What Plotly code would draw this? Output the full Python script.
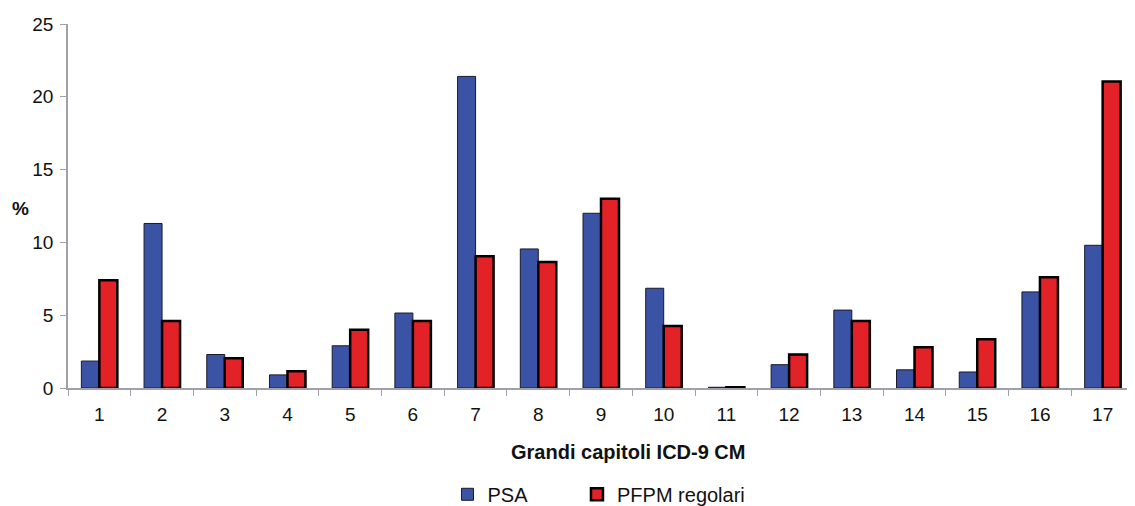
import plotly.graph_objects as go

categories = [str(i) for i in range(1, 18)]
psa = [1.85, 11.3, 2.3, 0.9, 2.9, 5.15, 21.4, 9.55, 12.0, 6.85, 0.05, 1.6, 5.35, 1.25, 1.1, 6.6, 9.8]
pfpm = [7.4, 4.6, 2.05, 1.15, 4.0, 4.6, 9.05, 8.65, 13.0, 4.25, 0.05, 2.3, 4.6, 2.8, 3.35, 7.6, 21.05]
y_ticks = [0, 5, 10, 15, 20, 25]

FONT = "Liberation Sans, Arial, sans-serif"
NB = "\u00a0"

# page body has an 8px margin, so figure coords = screen coords - 8
L, T = 60, 16
PW, PH = 1066, 364

fig = go.Figure()
fig.add_trace(go.Bar(
    x=categories, y=psa, name="PSA" + NB * 8,
    marker=dict(color="#3a53a4", line=dict(color="#1a1a2a", width=1)),
))
fig.add_trace(go.Bar(
    x=categories, y=pfpm, name="PFPM regolari",
    marker=dict(color="#e32227", line=dict(color="#000000", width=2.5)),
))

fig.update_layout(
    width=1135, height=506,
    margin=dict(l=L, r=1135 - L - PW, t=T, b=506 - T - PH, autoexpand=False),
    paper_bgcolor="white", plot_bgcolor="white",
    barmode="group", bargap=0.426, bargroupgap=0.0,
    font=dict(family=FONT, size=19, color="#111111"),
    showlegend=True,
    legend=dict(
        orientation="h", x=0.356, xanchor="left", y=-0.292, yanchor="middle",
        font=dict(family=FONT, size=20, color="#111111"),
        itemwidth=30,
        bgcolor="rgba(0,0,0,0)",
    ),
    xaxis=dict(
        type="category", tickson="boundaries", ticks="outside", ticklen=6,
        tickcolor="#a0a0a8", showline=True, linecolor="#a0a0a8", linewidth=1.5,
        showgrid=False, tickfont=dict(size=19), zeroline=False, automargin=False,
        ticklabelstandoff=8,
    ),
    yaxis=dict(
        range=[0, 25], tickvals=y_ticks, ticks="outside", ticklen=6,
        tickcolor="#a0a0a8", showline=True, linecolor="#a0a0a8", linewidth=1.5,
        showgrid=False, zeroline=False, tickfont=dict(size=19), automargin=False,
        ticklabelstandoff=3,
    ),
    annotations=[
        dict(text="<b>%</b>", x=(12 - L) / PW, y=(T + PH - 200) / PH, xref="paper", yref="paper",
             showarrow=False, font=dict(size=19), xanchor="center", yanchor="middle"),
        dict(text="<b>Grandi capitoli ICD-9 CM</b>", x=(620 - L) / PW, y=-(444 - T - PH) / PH,
             xref="paper", yref="paper", showarrow=False, font=dict(size=20),
             xanchor="center", yanchor="middle"),
    ],
)

fig.write_html("out.html")
